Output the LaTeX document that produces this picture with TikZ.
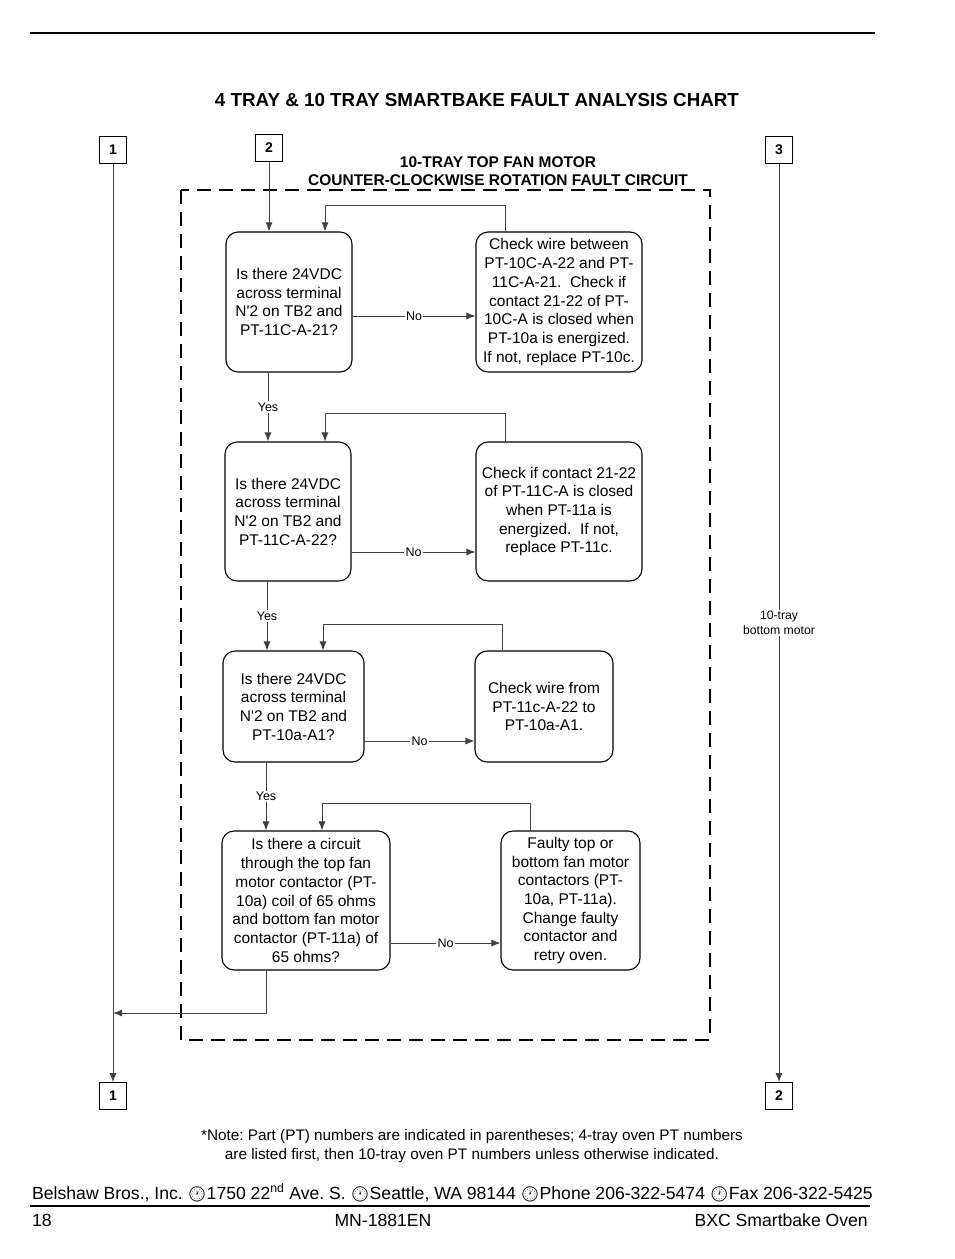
\documentclass[tikz,border=0pt]{standalone}
\usepackage{fontspec}
\setmainfont{Liberation Sans}
\newfontfamily\clockfont[Scale=0.85]{Noto Emoji}
\usetikzlibrary{arrows.meta}
\newcommand{\clk}{{\clockfont\symbol{"1F550}}}
\newcommand{\apo}{\textquotesingle}
\frenchspacing
\tikzset{
  qbox/.style={draw,line width=1.1pt,rounded corners=12pt,align=center,inner sep=2pt,
    font=\fontsize{15.5}{18.7}\selectfont},
  numbox/.style={draw,line width=0.9pt,minimum size=27pt,inner sep=0pt,
    font=\fontsize{14}{14}\selectfont\bfseries},
  wire/.style={draw=black!75,line width=0.8pt},
  arr/.style={wire,-{Latex[length=9pt,width=7pt]}},
  lbl/.style={fill=white,inner sep=1.5pt,font=\fontsize{12.5}{14}\selectfont},
}
\begin{document}
\begin{tikzpicture}[x=1pt,y=-1pt]
\useasboundingbox (0,0) rectangle (954,1259);
% page rules and headings
\draw[line width=1.2pt](30,33)--(875,33);
\node[font=\fontsize{18.8}{21}\selectfont\bfseries](title) at (477,100){4 TRAY \& 10 TRAY SMARTBAKE FAULT ANALYSIS CHART};
\node[font=\fontsize{15.5}{18.5}\selectfont\bfseries,align=center](sub) at (498,171){10-TRAY TOP FAN MOTOR\\COUNTER-CLOCKWISE ROTATION FAULT CIRCUIT};
\draw[line width=2.6pt,dash pattern=on 14pt off 8pt](181,190) rectangle (710,1040);
% connector boxes
\node[numbox](n1t) at (113,150){1};
\node[numbox](n2t) at (269,148){2};
\node[numbox](n3) at (779,150){3};
\node[numbox](n1b) at (113,1096){1};
\node[numbox](n2b) at (779,1096){2};
% questions and remedies
\node[qbox,minimum width=126pt,minimum height=140pt](Q1) at (289,302){Is there 24VDC\\across terminal\\N\apo2 on TB2 and\\PT-11C-A-21?};
\node[qbox,minimum width=166pt,minimum height=140pt](R1) at (559,302){Check wire between\\PT-10C-A-22 and PT-\\11C-A-21.\ \ Check if\\contact 21-22 of PT-\\10C-A is closed when\\PT-10a is energized.\\If not, replace PT-10c.};
\node[qbox,minimum width=126pt,minimum height=139pt](Q2) at (288,511.5){Is there 24VDC\\across terminal\\N\apo2 on TB2 and\\PT-11C-A-22?};
\node[qbox,minimum width=166pt,minimum height=139pt](R2) at (559,511.5){Check if contact 21-22\\of PT-11C-A is closed\\when PT-11a is\\energized.\ \ If not,\\replace PT-11c.};
\node[qbox,minimum width=141pt,minimum height=111pt](Q3) at (293.5,706.5){Is there 24VDC\\across terminal\\N\apo2 on TB2 and\\PT-10a-A1?};
\node[qbox,minimum width=138pt,minimum height=111pt](R3) at (544,706.5){Check wire from\\PT-11c-A-22 to\\PT-10a-A1.};
\node[qbox,minimum width=168pt,minimum height=139pt](Q4) at (306,900.5){Is there a circuit\\through the top fan\\motor contactor (PT-\\10a) coil of 65 ohms\\and bottom fan motor\\contactor (PT-11a) of\\65 ohms?};
\node[qbox,minimum width=139pt,minimum height=139pt](R4) at (570.5,900.5){Faulty top or\\bottom fan motor\\contactors (PT-\\10a, PT-11a).\\Change faulty\\contactor and\\retry oven.};
% No arrows and return loops
\foreach \k/\ny/\lx/\ly/\rx in {1/316/325/205/505,2/552/325/413/505,3/741/323/624/502,4/943/322/803/530}{
  \draw[arr](Q\k.east|-0,\ny)--node[lbl]{No}(R\k.west|-0,\ny);
  \draw[arr](R\k.north-|\rx,0)|-(\lx,\ly)--(Q\k.north-|\lx,0);
}
% Yes arrows
\foreach \k/\n/\yx in {1/2/268,2/3/267,3/4/266}{
  \draw[arr](Q\k.south-|\yx,0)--node[lbl,pos=0.5]{Yes}(Q\n.north-|\yx,0);
}
% entry and exits
\draw[arr](n2t)--(Q1.north-|n2t);
\coordinate(j1) at (113,1013);
\draw[arr](Q4.south-|266,0)|-(j1);
\draw[arr](n1t)--(n1b);
\draw[arr](n3)--node[lbl,align=center,pos=0.5,font=\fontsize{12.2}{15}\selectfont]{10-tray\\bottom motor}(n2b);
% note and footer
\node[align=center,font=\fontsize{15.3}{19}\selectfont](note) at (472,1146){*Note: Part (PT) numbers are indicated in parentheses; 4-tray oven PT numbers\\are listed first, then 10-tray oven PT numbers unless otherwise indicated.};
\node[anchor=base west,inner sep=0pt,font=\fontsize{17.6}{20}\selectfont](addr) at (32,1199){Belshaw Bros., Inc. \clk1750 22\textsuperscript{nd} Ave. S. \clk Seattle, WA 98144 \clk Phone 206-322-5474 \clk Fax 206-322-5425};
\draw[line width=1.6pt](30,1206)--(870,1206);
\node[anchor=base west,inner sep=0pt,font=\fontsize{17.6}{20}\selectfont](pg) at (32,1226){18};
\node[anchor=base,inner sep=0pt,font=\fontsize{17.6}{20}\selectfont](doc) at (383,1226){MN-1881EN};
\node[anchor=base east,inner sep=0pt,font=\fontsize{17.6}{20}\selectfont](oven) at (868,1226){BXC Smartbake Oven};
\end{tikzpicture}
\end{document}
